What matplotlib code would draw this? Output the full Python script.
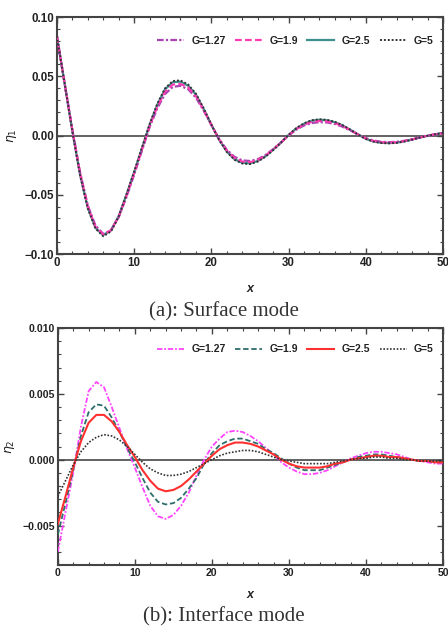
import matplotlib.pyplot as plt
from matplotlib.ticker import MultipleLocator, FuncFormatter

# x positions (read at every unit)
x = list(range(0, 51))

# (a) surface mode, eta_1
eta1_g127 = [0.084, 0.044, 0.005, -0.031, -0.059, -0.076, -0.083, -0.080, -0.069, -0.052,
             -0.033, -0.013, 0.007, 0.023, 0.035, 0.041, 0.042, 0.039, 0.032, 0.021,
             0.009, -0.003, -0.012, -0.018, -0.021, -0.0215, -0.020, -0.0165, -0.0115, -0.006,
             0.000, 0.005, 0.0085, 0.0105, 0.0113, 0.011, 0.0097, 0.0074, 0.0043, 0.0009,
             -0.0022, -0.0042, -0.0053, -0.0056, -0.0053, -0.0044, -0.0031, -0.0016, -0.0002, 0.0010,
             0.0019]
eta1_g19 = [0.084, 0.044, 0.0045, -0.032, -0.060, -0.077, -0.0835, -0.080, -0.0685, -0.051,
            -0.032, -0.012, 0.008, 0.0245, 0.037, 0.043, 0.0435, 0.0405, 0.0333, 0.0218,
            0.0090, -0.0032, -0.0128, -0.0190, -0.0220, -0.0225, -0.0208, -0.0170, -0.0118, -0.0060,
            0.0003, 0.0055, 0.0093, 0.0115, 0.0123, 0.0119, 0.0105, 0.0080, 0.0046, 0.0009,
            -0.0025, -0.0046, -0.0057, -0.0060, -0.0057, -0.0047, -0.0033, -0.0017, -0.0002, 0.0011,
            0.0020]
eta1_g25 = [0.084, 0.044, 0.004, -0.033, -0.061, -0.078, -0.084, -0.080, -0.068, -0.050,
            -0.031, -0.011, 0.009, 0.026, 0.039, 0.045, 0.0455, 0.042, 0.0345, 0.0225,
            0.0090, -0.0035, -0.0135, -0.0200, -0.0230, -0.0235, -0.0215, -0.0175, -0.0120, -0.0060,
            0.0005, 0.0060, 0.0100, 0.0125, 0.0133, 0.0128, 0.0112, 0.0085, 0.0048, 0.0008,
            -0.0028, -0.0050, -0.0061, -0.0064, -0.0060, -0.0049, -0.0034, -0.0017, -0.0002, 0.0011,
            0.0021]
eta1_g5 = [0.084, 0.044, 0.0035, -0.0335, -0.0615, -0.0785, -0.085, -0.081, -0.0685, -0.050,
           -0.0305, -0.0105, 0.0095, 0.0268, 0.0398, 0.046, 0.0465, 0.043, 0.0353, 0.0230,
           0.0092, -0.0036, -0.0138, -0.0205, -0.0236, -0.0241, -0.0220, -0.0179, -0.0123, -0.0061,
           0.0005, 0.0062, 0.0103, 0.0129, 0.0137, 0.0132, 0.0115, 0.0087, 0.0049, 0.0008,
           -0.0029, -0.0052, -0.0063, -0.0066, -0.0062, -0.0050, -0.0035, -0.0017, -0.0002, 0.0011,
           0.0022]

# (b) interface mode, eta_2
eta2_g127 = [-0.0070, -0.0040, -0.0010, 0.0025, 0.0052, 0.0059, 0.0055, 0.0040, 0.0024, 0.0008,
             -0.0006, -0.0021, -0.0035, -0.0043, -0.0045, -0.0042, -0.0035, -0.0025, -0.0012, 0.0000,
             0.0010, 0.0016, 0.0021, 0.0022, 0.0021, 0.0018, 0.0014, 0.0009, 0.0004, -0.0002,
             -0.0006, -0.0009, -0.0011, -0.0011, -0.0010, -0.0008, -0.0005, -0.0002, 0.0001, 0.0003,
             0.0005, 0.0006, 0.0006, 0.0005, 0.0004, 0.0002, 0.0000, -0.0001, -0.0002, -0.0003,
             -0.0003]
eta2_g19 = [-0.0057, -0.0033, -0.0008, 0.0018, 0.0036, 0.0042, 0.0041, 0.0032, 0.0021, 0.0009,
            -0.0002, -0.0014, -0.0025, -0.0032, -0.0034, -0.0033, -0.0029, -0.0022, -0.0014, -0.0003,
            0.0005, 0.0011, 0.0014, 0.0016, 0.0016, 0.0014, 0.0012, 0.0008, 0.0005, 0.0001,
            -0.0003, -0.0006, -0.0008, -0.0008, -0.0008, -0.0006, -0.0004, -0.0002, 0.0000, 0.0002,
            0.0003, 0.0004, 0.0004, 0.0003, 0.0002, 0.0001, 0.0000, -0.0001, -0.0001, -0.0002,
            -0.0002]
eta2_g25 = [-0.0049, -0.0028, -0.0006, 0.0014, 0.0028, 0.0034, 0.0034, 0.0029, 0.0021, 0.0011,
            0.0002, -0.0008, -0.0016, -0.0022, -0.0024, -0.0023, -0.0020, -0.0015, -0.0009, -0.0003,
            0.0003, 0.0008, 0.0011, 0.0013, 0.0013, 0.0012, 0.0010, 0.0007, 0.0004, 0.0000,
            -0.0003, -0.0005, -0.0006, -0.0006, -0.0006, -0.0005, -0.0003, -0.0002, 0.0000, 0.0001,
            0.0002, 0.0003, 0.0003, 0.0002, 0.0002, 0.0001, 0.0000, -0.0001, -0.0001, -0.0002,
            -0.0002]
eta2_g5 = [-0.0028, -0.0016, -0.0004, 0.0006, 0.0013, 0.0017, 0.0019, 0.0018, 0.0015, 0.0010,
           0.0004, -0.0002, -0.0007, -0.0010, -0.0012, -0.0012, -0.0011, -0.0009, -0.0006, -0.0003,
           0.0000, 0.0003, 0.0005, 0.0006, 0.0007, 0.0007, 0.0006, 0.0004, 0.0002, 0.0000,
           -0.0001, -0.0002, -0.0003, -0.0003, -0.0003, -0.0003, -0.0002, -0.0001, 0.0000, 0.0001,
           0.0001, 0.0002, 0.0002, 0.0001, 0.0001, 0.0000, 0.0000, -0.0001, -0.0001, -0.0001,
           -0.0001]

labels = ["G=1.27", "G=1.9", "G=2.5", "G=5"]

plt.rcParams['font.family'] = ['Liberation Sans', 'DejaVu Sans']
plt.rcParams['mathtext.fontset'] = 'dejavusans'

FRAME = "#444444"


def minus_fmt(decimals):
    def fmt(v, pos):
        s = f"{v:.{decimals}f}"
        if abs(v) < 1e-12:
            s = f"{0:.{decimals}f}"
        return s.replace("-", "\u2212")
    return FuncFormatter(fmt)


def style_axes(ax, ylim, ymajor, yminor, decimals, label_size):
    ax.set_xlim(0, 50)
    ax.set_ylim(*ylim)
    ax.xaxis.set_major_locator(MultipleLocator(10))
    ax.xaxis.set_minor_locator(MultipleLocator(2))
    ax.yaxis.set_major_locator(MultipleLocator(ymajor))
    ax.yaxis.set_minor_locator(MultipleLocator(yminor))
    ax.yaxis.set_major_formatter(minus_fmt(decimals))
    ax.tick_params(which="both", direction="in", top=True, right=True,
                   color=FRAME, labelcolor="#222222")
    ax.tick_params(which="major", length=4, width=1.0, labelsize=label_size, pad=2)
    ax.tick_params(which="minor", length=2.5, width=0.8)
    for lab in ax.get_xticklabels() + ax.get_yticklabels():
        lab.set_fontweight("bold")
    for sp in ax.spines.values():
        sp.set_color(FRAME)
        sp.set_linewidth(1.5)
    ax.axhline(0, color="#555555", lw=1.3, zorder=1)


def add_legend(ax, bbox):
    leg = ax.legend(loc="upper right", bbox_to_anchor=bbox, ncol=4, frameon=False,
                    handlelength=2.6, handletextpad=0.7, columnspacing=0.9,
                    prop={"weight": "bold", "size": 7.5})
    for t in leg.get_texts():
        t.set_color("#222222")


fig = plt.figure(figsize=(4.48, 6.28), dpi=100)

# (a) surface mode
ax1 = fig.add_axes([0.127, 0.5955, 0.862, 0.3774])
ax1.plot(x, eta1_g127, color="#a844b0", lw=1.6, ls=(0, (3, 1, 1, 1)), label=labels[0], zorder=3)
ax1.plot(x, eta1_g19, color="#ff3cb4", lw=1.6, ls=(0, (3, 1.5)), label=labels[1], zorder=3)
ax1.plot(x, eta1_g25, color="#3f8f8a", lw=1.6, ls="-", label=labels[2], zorder=2)
ax1.plot(x, eta1_g5, color="#333333", lw=1.4, ls=(0, (1, 1)), label=labels[3], zorder=4)
style_axes(ax1, (-0.10, 0.10), 0.05, 0.01, 2, 8.3)
add_legend(ax1, (1.0, 0.96))
ax1.set_ylabel(r"$\eta_1$", fontsize=9, labelpad=4, color="#222222")
ax1.set_xlabel("x", fontsize=9, fontweight="bold", fontstyle="italic", labelpad=10,
               color="#222222")

# (b) interface mode
ax2 = fig.add_axes([0.129, 0.1003, 0.860, 0.3774])
ax2.plot(x, eta2_g127, color="#ff44ff", lw=1.3, ls=(0, (3, 1, 1, 1)), label=labels[0], zorder=3)
ax2.plot(x, eta2_g19, color="#2e6e6a", lw=1.3, ls=(0, (3, 1.5)), label=labels[1], zorder=3)
ax2.plot(x, eta2_g25, color="#ff3030", lw=1.5, ls="-", label=labels[2], zorder=3)
ax2.plot(x, eta2_g5, color="#333333", lw=1.2, ls=(0, (1, 1)), label=labels[3], zorder=3)
style_axes(ax2, (-0.008, 0.010), 0.005, 0.001, 3, 7.6)
add_legend(ax2, (1.0, 0.97))
ax2.set_ylabel(r"$\eta_2$", fontsize=9, labelpad=4, color="#222222")
ax2.set_xlabel("x", fontsize=9, fontweight="bold", fontstyle="italic", labelpad=8,
               color="#222222")

# captions
fig.text(0.5, 1 - 312 / 628, "(a): Surface mode", ha="center", va="center",
         family="Liberation Serif", fontsize=15, color="#333333")
fig.text(0.5, 1 - 617 / 628, "(b): Interface mode", ha="center", va="center",
         family="Liberation Serif", fontsize=15, color="#333333")

fig.savefig("out.png", dpi=100)
